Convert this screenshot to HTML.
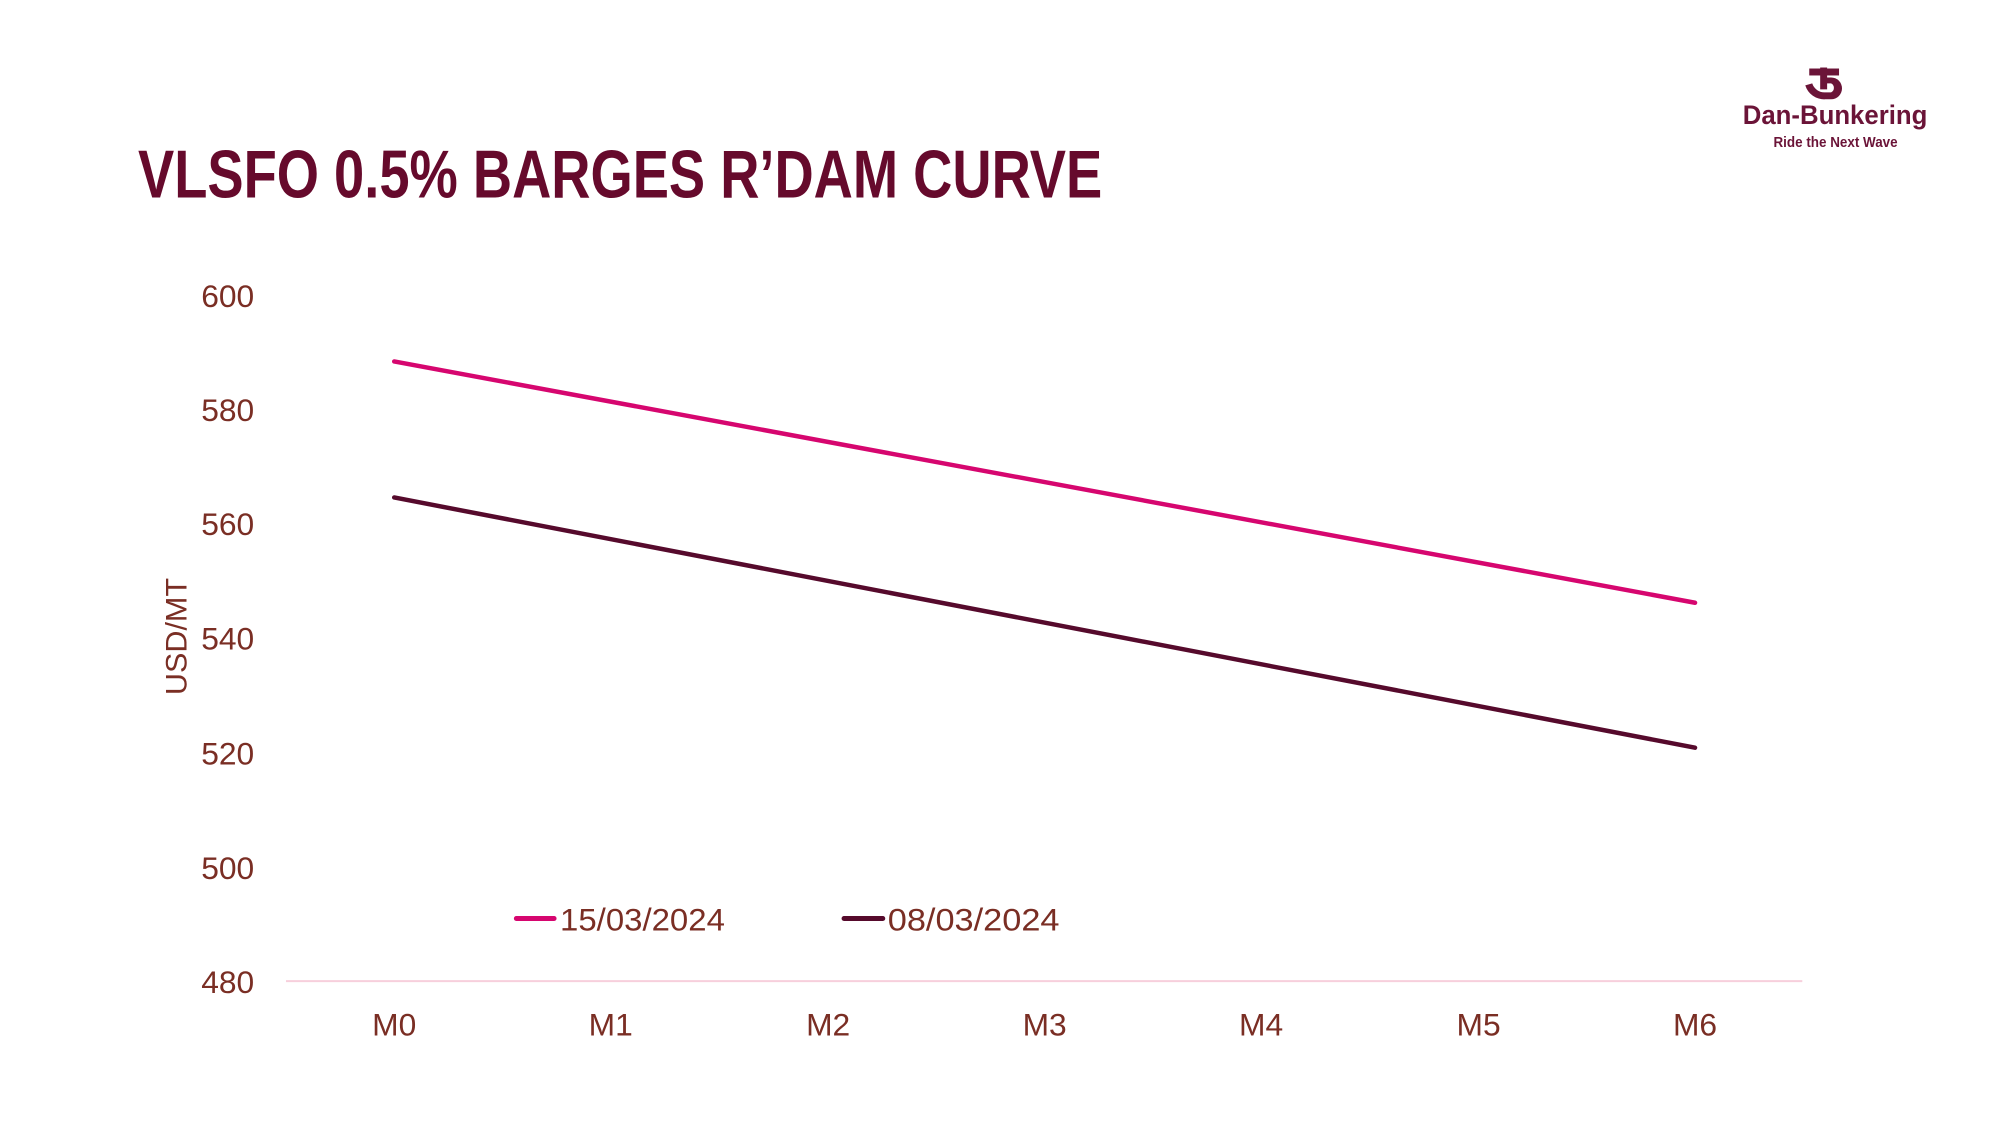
<!DOCTYPE html>
<html><head><meta charset="utf-8"><style>
html,body{margin:0;padding:0;background:#fff;}
svg{display:block;}
</style></head><body>
<svg width="2000" height="1125" viewBox="0 0 2000 1125" xmlns="http://www.w3.org/2000/svg" font-family="Liberation Sans, sans-serif">
<rect width="2000" height="1125" fill="#fff"/>
<g transform="scale(0.993)">
<!-- logo -->
<g fill="#6b1438">
<rect x="1822" y="69" width="30" height="7"/>
<rect x="1833" y="68" width="7" height="22"/>
<path d="M1836 78 h8 a11 11 0 0 1 0 22 h-6 a20 20 0 0 1 -20 -14 l7 -2 a13 13 0 0 0 13 9 h6 a5 5 0 0 0 0 -9 h-8 z"/>
</g>
<text x="1755" y="125" font-size="27" font-weight="bold" fill="#6b1438" textLength="186" lengthAdjust="spacingAndGlyphs">Dan-Bunkering</text>
<text x="1786" y="148" font-size="15" font-weight="bold" fill="#6b1438" textLength="125" lengthAdjust="spacingAndGlyphs">Ride the Next Wave</text>
<!-- title -->
<text x="139" y="199" font-size="68" font-weight="bold" fill="#660a2c" textLength="971" lengthAdjust="spacingAndGlyphs">VLSFO 0.5% BARGES R’DAM CURVE</text>
<!-- y ticks -->
<g font-size="32" fill="#7a2e24" text-anchor="end">
<text x="256" y="309">600</text>
<text x="256" y="424">580</text>
<text x="256" y="539">560</text>
<text x="256" y="654">540</text>
<text x="256" y="770">520</text>
<text x="256" y="885">500</text>
<text x="256" y="1000">480</text>
</g>
<text transform="translate(188,700) rotate(-90)" font-size="30" fill="#7a2e24" textLength="118" lengthAdjust="spacingAndGlyphs">USD/MT</text>
<line x1="288" y1="988" x2="1815" y2="988" stroke="#f7cfdc" stroke-width="2"/>
<g font-size="32" fill="#7a2e24" text-anchor="middle">
<text x="397" y="1043">M0</text>
<text x="615" y="1043">M1</text>
<text x="834" y="1043">M2</text>
<text x="1052" y="1043">M3</text>
<text x="1270" y="1043">M4</text>
<text x="1489" y="1043">M5</text>
<text x="1707" y="1043">M6</text>
</g>
<line x1="397" y1="364" x2="1707" y2="607" stroke="#d6066f" stroke-width="4.5" stroke-linecap="round"/>
<line x1="397" y1="501" x2="1707" y2="753" stroke="#560a2c" stroke-width="4.5" stroke-linecap="round"/>
<!-- legend -->
<line x1="520" y1="925" x2="558" y2="925" stroke="#d6066f" stroke-width="5" stroke-linecap="round"/>
<text x="564" y="937" font-size="32" fill="#7a2e24" textLength="166" lengthAdjust="spacingAndGlyphs">15/03/2024</text>
<line x1="850" y1="925" x2="889" y2="925" stroke="#560a2c" stroke-width="5" stroke-linecap="round"/>
<text x="894" y="937" font-size="32" fill="#7a2e24" textLength="173" lengthAdjust="spacingAndGlyphs">08/03/2024</text>
</g>
</svg>
</body></html>
